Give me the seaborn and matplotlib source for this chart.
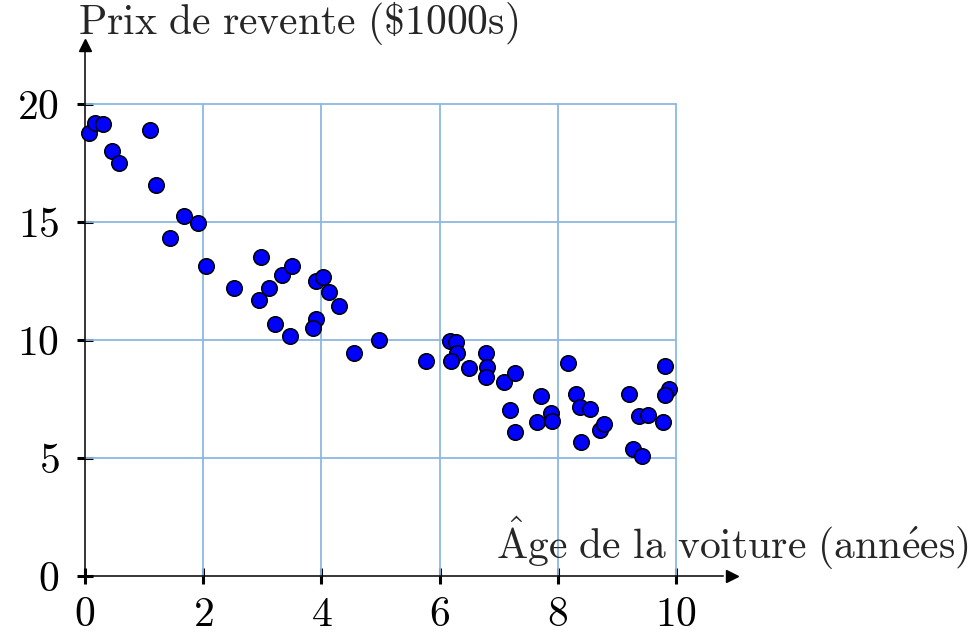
import pandas as pd
import matplotlib
matplotlib.use("Agg")
import matplotlib.pyplot as plt
import seaborn as sns

# Âge (années) et prix de revente ($1000s)
age = [0.06, 0.17, 0.30, 1.10, 0.45, 0.58, 1.20, 1.68, 1.92, 1.43,
       2.04, 2.52, 2.97, 2.94, 3.11, 3.34, 3.51, 3.21, 3.47, 3.91,
       4.03, 4.13, 4.30, 3.91, 3.85, 4.98, 4.55,
       5.77, 6.18, 6.28, 6.30, 6.19, 6.49, 6.79, 6.80, 6.79, 7.09,
       7.28, 7.72, 7.19, 7.28, 7.65, 7.88, 7.91, 8.18, 8.31, 8.38,
       8.54, 8.39, 8.72, 8.78, 9.21, 9.38, 9.53, 9.28, 9.43, 9.78,
       9.82, 9.89, 9.82]
prix = [18.78, 19.21, 19.17, 18.90, 18.01, 17.51, 16.55, 15.25, 14.94, 14.34,
        13.14, 12.20, 13.50, 11.69, 12.19, 12.74, 13.14, 10.69, 10.16, 12.51,
        12.66, 12.03, 11.44, 10.90, 10.51, 10.00, 9.47,
        9.12, 9.97, 9.92, 9.44, 9.11, 8.80, 9.44, 8.87, 8.43, 8.22,
        8.59, 7.64, 7.03, 6.11, 6.54, 6.92, 6.58, 9.01, 7.70, 7.17,
        7.06, 5.67, 6.19, 6.43, 7.71, 6.78, 6.82, 5.39, 5.10, 6.54,
        8.91, 7.94, 7.66]

xticks = [0, 2, 4, 6, 8, 10]
yticks = [0, 5, 10, 15, 20]

df = pd.DataFrame({'age': age, 'prix': prix})

sns.set_style("white")
plt.rcParams['mathtext.fontset'] = 'cm'
plt.rcParams['font.family'] = ['cmr10', 'DejaVu Serif']
plt.rcParams['axes.formatter.use_mathtext'] = True

fig = plt.figure(figsize=(9.7, 6.33), dpi=100)
ax = fig.add_axes([0, 0, 1, 1])
# repère : 59.1 px par année, 23.6 px par $1000
ax.set_xlim(-85 / 59.1, (970 - 85) / 59.1)
ax.set_ylim(-(633 - 576) / 23.6, 576 / 23.6)

grid_col = '#8cb8e2'
for xv in xticks[1:]:
    ax.plot([xv, xv], [0, 20], color=grid_col, lw=1.3, zorder=1)
for yv in yticks[1:]:
    ax.plot([0, 10], [yv, yv], color=grid_col, lw=1.3, zorder=1)

sns.scatterplot(data=df, x='age', y='prix', ax=ax, color='#0000ff',
                edgecolor='black', linewidth=1.1, s=125, zorder=4, clip_on=False)

for side in ['top', 'right']:
    ax.spines[side].set_visible(False)
ax.spines['left'].set_position(('data', 0))
ax.spines['bottom'].set_position(('data', 0))
ax.spines['left'].set_bounds(-0.1, 22.3)
ax.spines['bottom'].set_bounds(-0.05, 10.8)
for side in ['left', 'bottom']:
    ax.spines[side].set_linewidth(1.1)
    ax.spines[side].set_color('black')
    ax.spines[side].set_zorder(3)
ax.plot(10.95, 0, marker='>', color='black', ms=9, clip_on=False, zorder=3)
ax.plot(0, 22.5, marker='^', color='black', ms=9, clip_on=False, zorder=3)

ax.set_xticks(xticks)
ax.set_yticks(yticks)
ax.set_xticklabels([f'${t}$' for t in xticks])
ax.set_yticklabels([f'${t}$' for t in yticks])
ax.tick_params(bottom=True, left=True, direction='inout', length=12, width=2.2,
               labelsize=30, colors='black')
ax.tick_params(axis='y', pad=12.5)
ax.tick_params(axis='x', pad=9)
ax.set_xlabel('')
ax.set_ylabel('')

ax.text(14.95, 1.4, r'$\mathrm{\hat{A}ge\ de\ la\ voiture\ (ann\acute{e}es)}$',
        ha='right', va='center', fontsize=30)
ax.text(-0.12, 23.4, r'$\mathrm{Prix\ de\ revente\ (\$1000s)}$',
        ha='left', va='center', fontsize=30)

fig.savefig('out.png', dpi=100)
